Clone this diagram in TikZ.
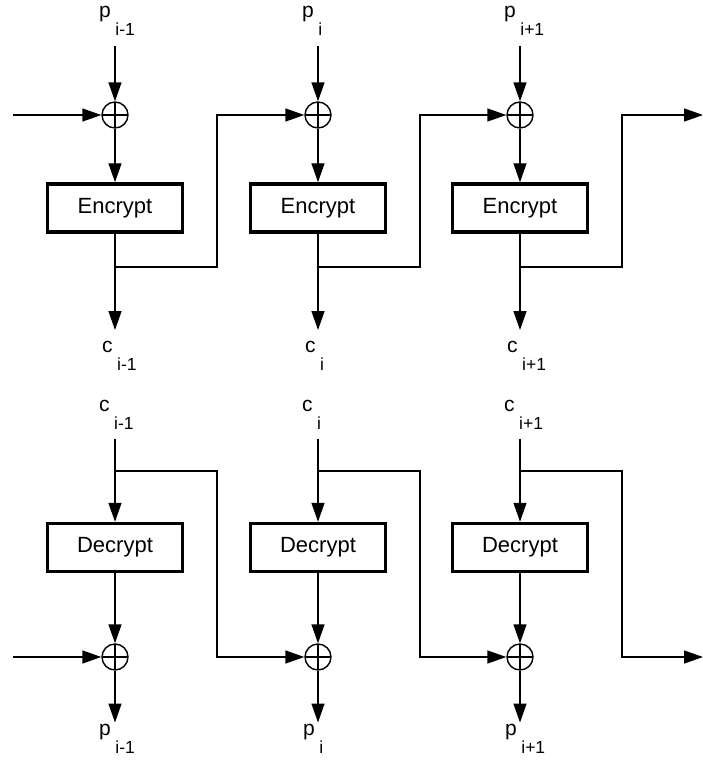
\documentclass[tikz,border=0pt]{standalone}
\usepackage{fontspec}
\setmainfont{Liberation Sans}
\usetikzlibrary{arrows.meta,positioning}

\newcommand{\lab}[2]{#1\hspace{4.5pt}\raisebox{-18pt}{\fontsize{17.5}{18}\selectfont #2}}

\begin{document}
\begin{tikzpicture}[x=1pt,y=-1pt,line width=1.4pt,>={Triangle[length=19pt,width=13pt]},
  xor/.style={circle,draw,minimum size=26pt,inner sep=0pt,
    path picture={\draw (path picture bounding box.north)--(path picture bounding box.south)
      (path picture bounding box.west)--(path picture bounding box.east);}},
  blk/.style={draw,rectangle,line width=3.5pt,minimum width=135pt,minimum height=48pt,
    font=\fontsize{22}{24}\selectfont},
  lbl/.style={inner xsep=0pt,inner ysep=10pt,anchor=base west,font=\fontsize{21}{23}\selectfont}]
\useasboundingbox (0,0) rectangle (703,761);

% encryption
\node[lbl] (p1) at (98.5,17) {\lab{p}{i-1}};
\node[lbl] (p2) at (301.5,17) {\lab{p}{i}};
\node[lbl] (p3) at (503.5,17) {\lab{p}{i+1}};
\node[xor] (x1) at (115,115) {};
\node[xor] (x2) at (318,115) {};
\node[xor] (x3) at (520,115) {};
\node[blk] (e1) at (115,208) {Encrypt};
\node[blk] (e2) at (318,208) {Encrypt};
\node[blk] (e3) at (520,208) {Encrypt};
\node[lbl] (c1) at (101.5,352) {\lab{c}{i-1}};
\node[lbl] (c2) at (304.5,352) {\lab{c}{i}};
\node[lbl] (c3) at (506.5,352) {\lab{c}{i+1}};
\coordinate (in1) at (13,115);
\coordinate (out1) at (703,115);
\coordinate (b1) at (115,267);
\coordinate (b2) at (318,267);
\coordinate (b3) at (520,267);
\coordinate (k1) at (217,115);
\coordinate (k2) at (420,115);
\coordinate (k3) at (622,115);
\draw[->] (x1 |- p1.south) -- (x1);
\draw[->] (x2 |- p2.south) -- (x2);
\draw[->] (x3 |- p3.south) -- (x3);
\draw[->] (x1) -- (e1);
\draw[->] (x2) -- (e2);
\draw[->] (x3) -- (e3);
\draw[->] (e1) -- (e1 |- c1.north);
\draw[->] (e2) -- (e2 |- c2.north);
\draw[->] (e3) -- (e3 |- c3.north);
\draw[->] (in1) -- (x1);
\draw[->] (b1) -| (k1) -- (x2);
\draw[->] (b2) -| (k2) -- (x3);
\draw[->] (b3) -| (k3) -- (out1);

% decryption
\node[lbl,inner ysep=9pt] (ci1) at (98.5,411) {\lab{c}{i-1}};
\node[lbl,inner ysep=9pt] (ci2) at (301.5,411) {\lab{c}{i}};
\node[lbl,inner ysep=9pt] (ci3) at (503.5,411) {\lab{c}{i+1}};
\node[blk] (d1) at (115,547.5) {Decrypt};
\node[blk] (d2) at (318,547.5) {Decrypt};
\node[blk] (d3) at (520,547.5) {Decrypt};
\node[xor] (y1) at (115,657) {};
\node[xor] (y2) at (318,657) {};
\node[xor] (y3) at (520,657) {};
\node[lbl,inner ysep=0.5pt] (po1) at (98.5,735) {\lab{p}{i-1}};
\node[lbl,inner ysep=0.5pt] (po2) at (302.5,735) {\lab{p}{i}};
\node[lbl,inner ysep=0.5pt] (po3) at (504.5,735) {\lab{p}{i+1}};
\coordinate (in2) at (13,657);
\coordinate (out2) at (703,657);
\coordinate (bb1) at (115,471);
\coordinate (bb2) at (318,471);
\coordinate (bb3) at (520,471);
\coordinate (kk1) at (217,657);
\coordinate (kk2) at (420,657);
\coordinate (kk3) at (622,657);
\draw[->] (d1 |- ci1.south) -- (d1);
\draw[->] (d2 |- ci2.south) -- (d2);
\draw[->] (d3 |- ci3.south) -- (d3);
\draw[->] (d1) -- (y1);
\draw[->] (d2) -- (y2);
\draw[->] (d3) -- (y3);
\draw[->] (y1) -- (y1 |- po1.north);
\draw[->] (y2) -- (y2 |- po2.north);
\draw[->] (y3) -- (y3 |- po3.north);
\draw[->] (in2) -- (y1);
\draw[->] (bb1) -| (kk1) -- (y2);
\draw[->] (bb2) -| (kk2) -- (y3);
\draw[->] (bb3) -| (kk3) -- (out2);
\end{tikzpicture}
\end{document}
